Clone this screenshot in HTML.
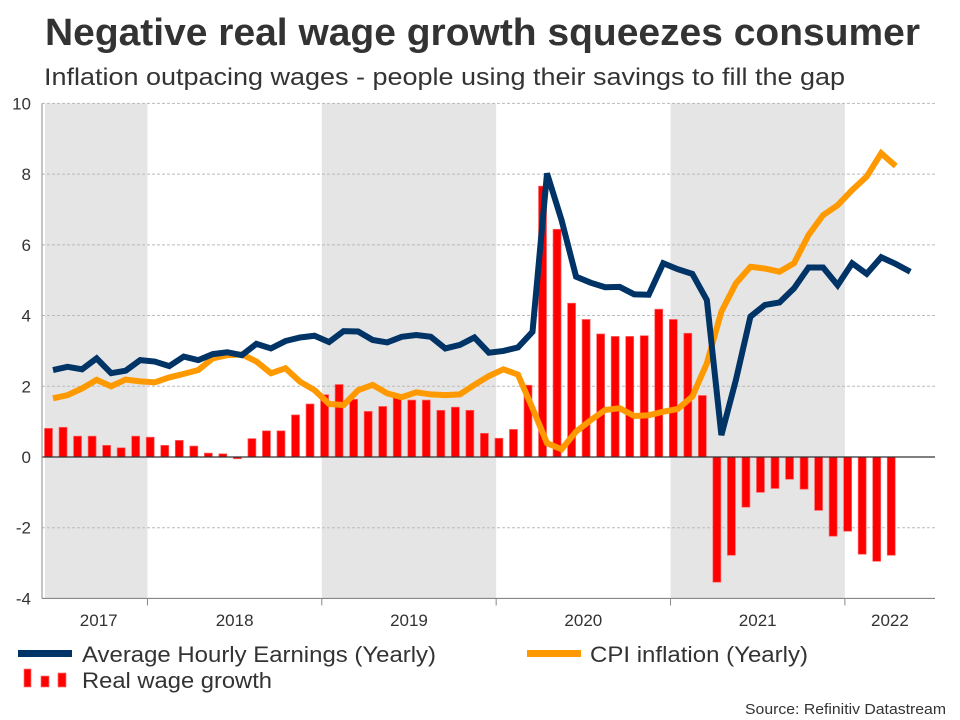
<!DOCTYPE html>
<html><head><meta charset="utf-8"><style>
body{margin:0;background:#fff;}
svg{display:block;font-family:"Liberation Sans",Arial,sans-serif;}
</style></head><body>
<svg id="chart" width="960" height="720" viewBox="0 0 960 720" xmlns="http://www.w3.org/2000/svg">
<text x="45" y="45" font-size="38" font-weight="bold" fill="#333" textLength="875" lengthAdjust="spacingAndGlyphs">Negative real wage growth squeezes consumer</text>
<text x="44" y="85" font-size="24" fill="#333" textLength="801" lengthAdjust="spacingAndGlyphs">Inflation outpacing wages - people using their savings to fill the gap</text>
<g id="bands"></g>
<g id="grid"></g>
<g id="bars"></g>
<g id="lines"></g>
<g id="axes"></g>
<g>
<rect x="18" y="650" width="54" height="7" fill="#003366"/>
<text x="82" y="662" font-size="22" fill="#333" textLength="354" lengthAdjust="spacingAndGlyphs">Average Hourly Earnings (Yearly)</text>
<rect x="527" y="650" width="54" height="7" fill="#ff9900"/>
<text x="590" y="662" font-size="22" fill="#333" textLength="218" lengthAdjust="spacingAndGlyphs">CPI inflation (Yearly)</text>
<rect x="24" y="669" width="7" height="18" fill="#ff0000" stroke="#f77" stroke-width="0.7"/>
<rect x="41" y="676" width="8" height="11" fill="#ff0000" stroke="#f77" stroke-width="0.7"/>
<rect x="58" y="673" width="8" height="14" fill="#ff0000" stroke="#f77" stroke-width="0.7"/>
<text x="82" y="688" font-size="22" fill="#333" textLength="190" lengthAdjust="spacingAndGlyphs">Real wage growth</text>
</g>
<text x="745" y="714" font-size="15" fill="#333" textLength="201" lengthAdjust="spacingAndGlyphs">Source: Refinitiv Datastream</text>
</svg>
<script>
const yTicks = [-4,-2,0,2,4,6,8,10];
const yearLabels = ["2017","2018","2019","2020","2021","2022"];
const ahe = [2.46,2.55,2.48,2.79,2.37,2.44,2.74,2.70,2.57,2.84,2.74,2.91,2.96,2.88,3.2,3.07,3.28,3.38,3.43,3.25,3.56,3.55,3.31,3.24,3.40,3.45,3.40,3.07,3.17,3.38,2.95,3.0,3.10,3.54,8.02,6.70,5.10,4.93,4.80,4.81,4.60,4.59,5.48,5.31,5.18,4.44,0.62,2.18,3.97,4.30,4.37,4.77,5.36,5.36,4.86,5.48,5.18,5.65,5.46,5.24];
const cpi = [1.66,1.75,1.94,2.18,2.0,2.19,2.14,2.11,2.25,2.35,2.46,2.79,2.88,2.9,2.70,2.37,2.51,2.13,1.89,1.50,1.47,1.89,2.04,1.8,1.69,1.83,1.77,1.75,1.77,2.04,2.29,2.48,2.33,1.38,0.39,0.22,0.72,1.04,1.33,1.38,1.16,1.18,1.28,1.36,1.71,2.65,4.11,4.91,5.38,5.33,5.24,5.48,6.28,6.84,7.12,7.55,7.93,8.59,8.23];
const realWage = [0.81,0.84,0.59,0.59,0.33,0.26,0.59,0.56,0.33,0.47,0.31,0.11,0.09,-0.05,0.52,0.74,0.74,1.19,1.5,1.76,2.05,1.63,1.29,1.43,1.69,1.61,1.61,1.32,1.41,1.32,0.67,0.53,0.78,2.03,7.66,6.44,4.35,3.89,3.48,3.41,3.41,3.43,4.18,3.89,3.5,1.74,-3.54,-2.78,-1.42,-1.0,-0.89,-0.63,-0.91,-1.51,-2.24,-2.10,-2.75,-2.95,-2.78];
const yearStartIdx = [-5.5,6.5,18.5,30.5,42.5,54.5];

const NS="http://www.w3.org/2000/svg";
const L=42,R=935;
function x(i){return 53+14.53*i;}
function y(v){return 457-35.36*v;}
function mk(p,tag,attrs){const e=document.createElementNS(NS,tag);for(const k in attrs)e.setAttribute(k,attrs[k]);document.getElementById(p).appendChild(e);return e;}

[0,2,4].forEach(k=>{
  const x0=Math.max(L+3,x(yearStartIdx[k])), x1=x(yearStartIdx[k+1]);
  const r=mk('bands','rect',{x:x0,y:y(10),width:x1-x0,height:y(-4)-y(10),fill:'#e5e5e5'});
  
  
});
yTicks.forEach(t=>{
  if(t!==0&&t!==-4){const g=mk('grid','line',{x1:L,x2:R,y1:y(t),y2:y(t),stroke:'#bbb','stroke-dasharray':'3,2','stroke-width':1});
  
  }
  const tx=mk('axes','text',{x:31,y:y(t)+6,'font-size':17,fill:'#333','text-anchor':'end'});
  
  
  tx.textContent=t;
});
realWage.forEach((v,i)=>{
  const cx=x(i)-4.5, top=Math.min(y(v),y(0)), h=Math.abs(y(v)-y(0));
  const b=mk('bars','rect',{x:cx-4,y:top,width:8,height:h,fill:'#ff0000',stroke:'#f66','stroke-width':0.7});
  
  
});
const z=mk('axes','line',{x1:L,x2:R,y1:y(0),y2:y(0),stroke:'#333','stroke-width':1.2});


function poly(arr,col,name){
  const p=mk('lines','polyline',{points:arr.map((v,i)=>x(i)+','+y(v)).join(' '),fill:'none',stroke:col,'stroke-width':6,'stroke-linejoin':'miter','stroke-miterlimit':2});
  
  
}
poly(cpi,'#ff9900','cpi-line');
poly(ahe,'#003366','ahe-line');
const va=mk('axes','line',{x1:L,x2:L,y1:y(10),y2:y(-4),stroke:'#888','stroke-width':1});


const ha=mk('axes','line',{x1:L,x2:R,y1:y(-4),y2:y(-4),stroke:'#888','stroke-width':1.2});


yearLabels.forEach((lab,k)=>{
  const x0=Math.max(L,x(yearStartIdx[k]));
  const x1=k<5?x(yearStartIdx[k+1]):R;
  if(k>0){const tk=mk('axes','line',{x1:x0,x2:x0,y1:y(-4),y2:y(-4)+7,stroke:'#888','stroke-width':1});
  
  }
  const tx=mk('axes','text',{x:(x0+x1)/2+(k==0?4:0),y:626,'font-size':17,fill:'#333','text-anchor':'middle'});
  
  
  tx.textContent=lab;
});
</script>
</body></html>
